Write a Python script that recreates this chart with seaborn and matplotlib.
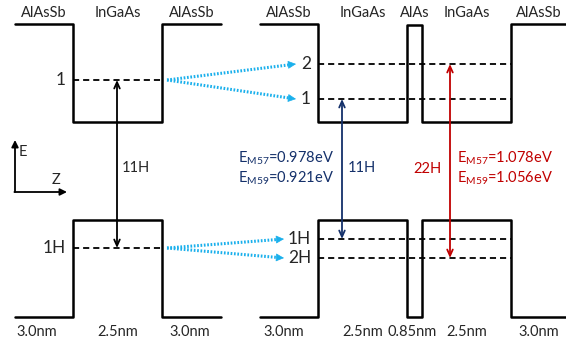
import numpy as np
import pandas as pd
import matplotlib
matplotlib.use("Agg")
import matplotlib.pyplot as plt
import seaborn as sns

sns.set_style("white")
plt.rcParams['font.family'] = ['Lato', 'DejaVu Sans']
plt.rcParams['mathtext.fontset'] = 'custom'
plt.rcParams['mathtext.rm'] = 'Lato'

# ---- structures (x in diagram units, energy in arb. units) ----
left_layers = ["AlAsSb", "InGaAs", "AlAsSb"]
left_thick = ["3.0nm", "2.5nm", "3.0nm"]
left_edges = [15, 73, 162, 221]
cb_left = [3.21, 2.23, 3.21]
vb_left = [0.28, 1.25, 0.28]

right_layers = ["AlAsSb", "InGaAs", "AlAs", "InGaAs", "AlAsSb"]
right_thick = ["3.0nm", "2.5nm", "0.85nm", "2.5nm", "3.0nm"]
right_edges = [260, 318, 407, 422, 511, 566]
cb_right = [3.21, 2.23, 3.20, 2.23, 3.21]
vb_right = [0.28, 1.25, 0.28, 1.25, 0.28]

# confined levels
e_left = [2.65]
e_left_lbl = ["1"]
h_left = [0.97]
h_left_lbl = ["1H"]
e_right = [2.81, 2.46]
e_right_lbl = ["2", "1"]
h_right = [1.06, 0.87]
h_right_lbl = ["1H", "2H"]

# transitions
blue_txt = ["0.978eV", "0.921eV"]
red_txt = ["1.078eV", "1.056eV"]

navy = "#14306A"
red = "#C00000"
cyan = "#1AB0EC"


def profile(edges, levels, seg):
    xs, ys = [], []
    for i, lev in enumerate(levels):
        xs += [edges[i], edges[i + 1]]
        ys += [lev, lev]
    return pd.DataFrame({"x": xs, "E": ys, "seg": seg})


bands = pd.concat([profile(left_edges, cb_left, 0), profile(left_edges, vb_left, 1),
                   profile(right_edges, cb_right, 2), profile(right_edges, vb_right, 3)])

fig = plt.figure(figsize=(5.66, 3.45), dpi=100)
ax = fig.add_axes([0, 0, 1, 1])

sns.lineplot(data=bands, x="x", y="E", units="seg", estimator=None, sort=False,
             color="black", lw=1.8, ax=ax)

# dashed levels
lev = []
k = 0
for vals, x0, x1 in [(e_left + h_left, left_edges[1], left_edges[2]),
                     (e_right + h_right, right_edges[1], right_edges[4])]:
    for v in vals:
        lev.append(pd.DataFrame({"x": [x0, x1], "E": [v, v], "seg": k}))
        k += 1
lev = pd.concat(lev)
sns.lineplot(data=lev, x="x", y="E", units="seg", estimator=None, sort=False,
             color="black", lw=1.3, linestyle=(0, (3.4, 2.2)), ax=ax)

# level labels
for v, s in zip(e_left + h_left, e_left_lbl + h_left_lbl):
    ax.text(left_edges[1] - 7, v, s, ha="right", va="center", fontsize=12.5)
for v, s in zip(e_right + h_right, e_right_lbl + h_right_lbl):
    ax.text(right_edges[1] - 7, v, s, ha="right", va="center", fontsize=12.5)

# layer names and thicknesses
thick_shift = [-7, 0, -2, -5, 0, -2, 0, 0]
j = 0
for edges, names, th in [(left_edges, left_layers, left_thick),
                         (right_edges, right_layers, right_thick)]:
    for i in range(len(names)):
        xc = (edges[i] + edges[i + 1]) / 2
        ax.text(xc, 3.32, names[i], ha="center", va="center", fontsize=10.5)
        ax.text(xc + thick_shift[j], 0.13, th[i], ha="center", va="center",
                fontsize=10.5)
        j += 1

# dotted arrows connecting left levels to right levels
for src, dsts, xend in [(e_left[0], e_right, right_edges[0] + 36),
                        (h_left[0], h_right, right_edges[0] + 24)]:
    x0 = left_edges[2] + 5
    for d in dsts:
        # stop the dotted line a bit before the head
        f = (xend - 6 - x0) / (xend - x0)
        ax.plot([x0, xend - 6], [src, src + f * (d - src)], color=cyan, lw=2.2,
                linestyle=(0, (0.55, 0.55)), solid_capstyle="butt",
                dash_capstyle="butt")
        ax.annotate("", xy=(xend, d), xytext=(xend - 7, src + f * (d - src)),
                    arrowprops=dict(arrowstyle="-|>,head_length=0.5,head_width=0.25",
                                    color=cyan, lw=0.5, shrinkA=0, shrinkB=0))

# transition arrows
arr = dict(arrowstyle="<->,head_length=0.45,head_width=0.2", lw=1.3,
           shrinkA=0, shrinkB=0)
ax.annotate("", xy=(117, e_left[0]), xytext=(117, h_left[0]),
            arrowprops=dict(color="black", **arr))
ax.annotate("", xy=(342, e_right[1]), xytext=(342, h_right[0]),
            arrowprops=dict(color=navy, **arr))
ax.annotate("", xy=(450, e_right[0]), xytext=(450, h_right[1]),
            arrowprops=dict(color=red, **arr))

ax.text(122, 1.77, "11H", ha="left", va="center", fontsize=10.5)
ax.text(348, 1.77, "11H", ha="left", va="center", fontsize=10.5, color=navy)
ax.text(442, 1.76, "22H", ha="right", va="center", fontsize=10.5, color=red)

ax.text(334, 1.87, r"E$_{\mathrm{M57}}$=" + blue_txt[0], ha="right", va="center",
        fontsize=10.5, color=navy)
ax.text(334, 1.67, r"E$_{\mathrm{M59}}$=" + blue_txt[1], ha="right", va="center",
        fontsize=10.5, color=navy)
ax.text(457, 1.87, r"E$_{\mathrm{M57}}$=" + red_txt[0], ha="left", va="center",
        fontsize=10.5, color=red)
ax.text(457, 1.67, r"E$_{\mathrm{M59}}$=" + red_txt[1], ha="left", va="center",
        fontsize=10.5, color=red)

# E-Z axes sketch
ax.annotate("", xy=(15, 2.05), xytext=(15, 1.53),
            arrowprops=dict(arrowstyle="-|>,head_length=0.4,head_width=0.2",
                            color="black", lw=1.3, shrinkA=0, shrinkB=0))
ax.annotate("", xy=(67, 1.53), xytext=(14.4, 1.53),
            arrowprops=dict(arrowstyle="-|>,head_length=0.4,head_width=0.2",
                            color="black", lw=1.3, shrinkA=0, shrinkB=0))
ax.text(19, 1.93, "E", ha="left", va="center", fontsize=10.5)
ax.text(56, 1.65, "Z", ha="center", va="center", fontsize=10.5)

ax.set_xlim(0, 566)
ax.set_ylim(0, 3.45)
ax.axis("off")
fig.savefig("out.png", dpi=100)
